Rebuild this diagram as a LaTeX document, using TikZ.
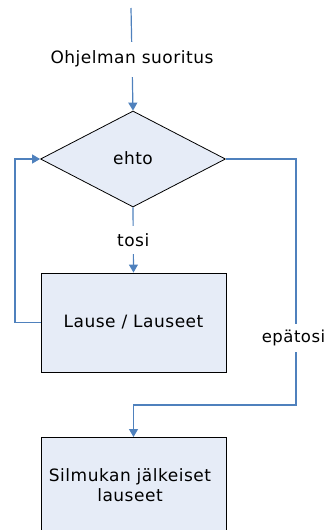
\documentclass[tikz,border=0pt]{standalone}
\usepackage{fontspec}
\setmainfont{DejaVu Sans}[LetterSpace=3]
\usetikzlibrary{arrows.meta,shapes.geometric}
\definecolor{flowblue}{HTML}{4F81BD}
\definecolor{boxfill}{HTML}{E6ECF7}
\tikzset{
  flow/.style={draw=flowblue, line width=1.2pt},
  arr/.style={flow, -{Triangle[width=9pt,length=8pt]}},
  stepbox/.style={draw=black, line width=0.9pt, fill=boxfill, minimum width=185pt, minimum height=99pt, inner sep=0pt},
  cond/.style={diamond, draw=black, line width=0.8pt, fill=boxfill, minimum width=185pt, minimum height=96pt, inner sep=0pt, aspect=1.93},
  lbl/.style={fill=white, inner xsep=1pt, inner ysep=7pt},
  every node/.style={font=\fontsize{17}{20}\selectfont, text=black}
}
\begin{document}
\begin{tikzpicture}[x=1pt, y=-1pt]
  \useasboundingbox (0,0) rectangle (327,530);
  \clip (0,0) rectangle (327,530);
  % entry point
  \coordinate (start) at (131,8);
  % condition and loop body
  \node[cond] (test) at (133,159) {};
  \node at (133,158) {ehto};
  \node[stepbox] (body) at (133.5,322.5) {Lause / Lauseet};
  % statements after the loop (runs past the lower edge)
  \node[stepbox, minimum height=110pt, anchor=north] (after) at (133.5,437) {};
  \node[align=center] at (130,485) {Silmukan jälkeiset\\lauseet};
  % bend points of the loop-back and exit paths
  \coordinate (l1) at (15,322.5);
  \coordinate (l2) at (15,159);
  \coordinate (r1) at (296,159);
  \coordinate (r2) at (296,405);
  \coordinate (r3) at (133.5,405);
  % connectors
  \draw[arr] (start) -- node[lbl, inner ysep=9pt] {Ohjelman suoritus} (test.north);
  \draw[arr] (test.south) -- node[lbl] {tosi} (body.north);
  \draw[arr] (body.west) -- (l1) -- (l2) -- (test.west);
  \draw[arr] (test.east) -- (r1) -- node[pos=0.729, lbl, inner ysep=6pt, inner xsep=0pt, xshift=-2.5pt, font=\fontsize{16.5}{20}\selectfont] {epätosi} (r2) -- (r3) -- (after.north);
\end{tikzpicture}
\end{document}
